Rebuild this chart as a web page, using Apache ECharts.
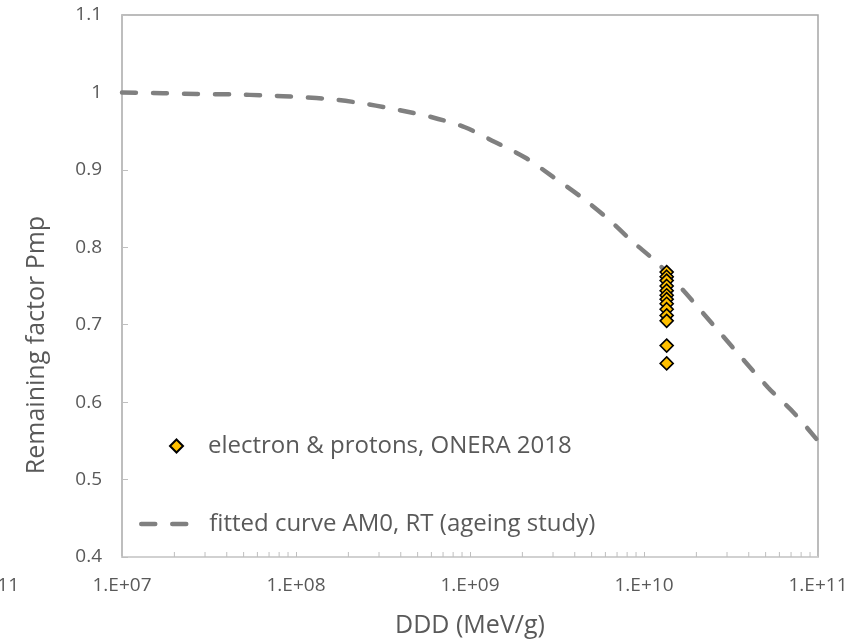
<!DOCTYPE html>
<html>
<head>
<meta charset="utf-8">
<script src="https://cdn.jsdelivr.net/npm/echarts@6/dist/echarts.min.js"></script>
<style>
  html, body { margin: 0; padding: 0; background: #fff; }
  #main { width: 851px; height: 644px; }
</style>
</head>
<body>
<div id="main"></div>
<script>
// fitted curve AM0, RT
var curveX = [1e7, 1.72e7, 2.7e7, 4.3e7, 6.8e7, 1.05e8, 1.63e8, 2.56e8, 3.96e8, 6.05e8, 9.35e8,
  1.39e9, 2.07e9, 3.0e9, 4.29e9, 6.12e9, 8.53e9, 1.19e10, 1.67e10, 2.8e10, 5.16e10, 7.28e10, 1e11];
var curveY = [1.0, 0.999, 0.998, 0.9975, 0.996, 0.994, 0.991, 0.985, 0.977, 0.968, 0.955,
  0.936, 0.916, 0.891, 0.866, 0.838, 0.808, 0.780, 0.745, 0.687, 0.619, 0.586, 0.550];

// measurements, electron & protons, ONERA 2018
var measX = 1.35e10;
var measY = [0.768, 0.762, 0.757, 0.750, 0.744, 0.738, 0.733, 0.727, 0.720, 0.712, 0.705, 0.673, 0.650];

// minor ticks of the log axis: 2..9 in every decade
var minorTicks = [];
[1e7, 1e8, 1e9, 1e10].forEach(function (d) {
  for (var k = 2; k <= 9; k++) minorTicks.push([k * d]);
});

var seriesNames = ["electron & protons, ONERA 2018", "fitted curve AM0, RT (ageing study)"];

var labelColor = "#595959";
var font = "Open Sans";
var dash = { color: "#808080", width: 4.5, type: [14, 17], cap: "round" };

var myChart = echarts.init(document.getElementById("main"));

var option = {
  animation: false,
  grid: {
    left: 122, right: 33, top: 15, bottom: 87,
    show: true,
    borderColor: "#a6a6a6",
    borderWidth: 1.5
  },
  xAxis: {
    type: "log",
    logBase: 10,
    min: 1e7,
    max: 1e11,
    splitLine: { show: false },
    axisLine: { show: true, lineStyle: { color: "#d9d9d9", width: 1.5 } },
    axisTick: { show: true, inside: true, length: 5, lineStyle: { color: "#bfbfbf" } },
    axisLabel: {
      margin: 19,
      color: labelColor,
      fontFamily: font,
      fontSize: 19,
      formatter: function (v) {
        var e = Math.round(Math.log10(v));
        return "1.E+" + (e < 10 ? "0" + e : e);
      }
    },
    name: "DDD (MeV/g)",
    nameLocation: "middle",
    nameGap: 56,
    nameTextStyle: { color: labelColor, fontFamily: font, fontSize: 25 }
  },
  yAxis: {
    type: "value",
    min: 0.4,
    max: 1.1,
    interval: 0.1,
    splitLine: { show: false },
    axisLine: { show: true, lineStyle: { color: "#bfbfbf", width: 1.5 } },
    axisTick: { show: true, inside: true, length: 6, lineStyle: { color: "#bfbfbf" } },
    axisLabel: {
      margin: 20,
      color: labelColor,
      fontFamily: font,
      fontSize: 19,
      formatter: function (v) { return String(Math.round(v * 10) / 10); }
    }
  },
  legend: [
    {
      data: [seriesNames[0]],
      orient: "vertical",
      left: 164, top: 429,
      itemWidth: 13, itemHeight: 13,
      textStyle: { color: labelColor, fontFamily: font, fontSize: 24, padding: [0, 0, 0, 20] }
    },
    {
      data: [seriesNames[1]],
      orient: "vertical",
      left: 134, top: 507,
      itemWidth: 55, itemHeight: 14,
      itemStyle: { opacity: 0 },
      lineStyle: dash,
      textStyle: { color: labelColor, fontFamily: font, fontSize: 24, padding: [0, 0, 0, 8] }
    }
  ],
  graphic: [
    {
      type: "text",
      x: 37, y: 345,
      rotation: Math.PI / 2,
      style: {
        text: "Remaining factor Pmp",
        fill: labelColor,
        font: "25px 'Open Sans'",
        textAlign: "center",
        textVerticalAlign: "middle"
      }
    },
    {
      type: "text",
      x: 19, y: 586,
      style: {
        text: "1.E+11",
        fill: labelColor,
        font: "19px 'Open Sans'",
        textAlign: "right",
        textVerticalAlign: "middle"
      }
    }
  ],
  series: [
    {
      name: seriesNames[1],
      type: "line",
      data: curveX.map(function (x, i) { return [x, curveY[i]]; }),
      smooth: 0.3,
      symbol: "none",
      lineStyle: dash,
      itemStyle: { color: "#808080" },
      z: 2
    },
    {
      name: seriesNames[0],
      type: "scatter",
      data: measY.map(function (y) { return [measX, y]; }),
      symbol: "diamond",
      symbolSize: 13,
      itemStyle: { color: "#ffc000", borderColor: "#000", borderWidth: 1.6, opacity: 1 },
      z: 3
    },
    {
      type: "custom",
      silent: true,
      data: minorTicks,
      renderItem: function (params, api) {
        var p = api.coord([api.value(0), 0.4]);
        return {
          type: "line",
          shape: { x1: p[0], y1: p[1], x2: p[0], y2: p[1] - 5 },
          style: { stroke: "#bfbfbf", lineWidth: 1 }
        };
      },
      z: 1
    }
  ]
};

myChart.setOption(option);
</script>
</body>
</html>
